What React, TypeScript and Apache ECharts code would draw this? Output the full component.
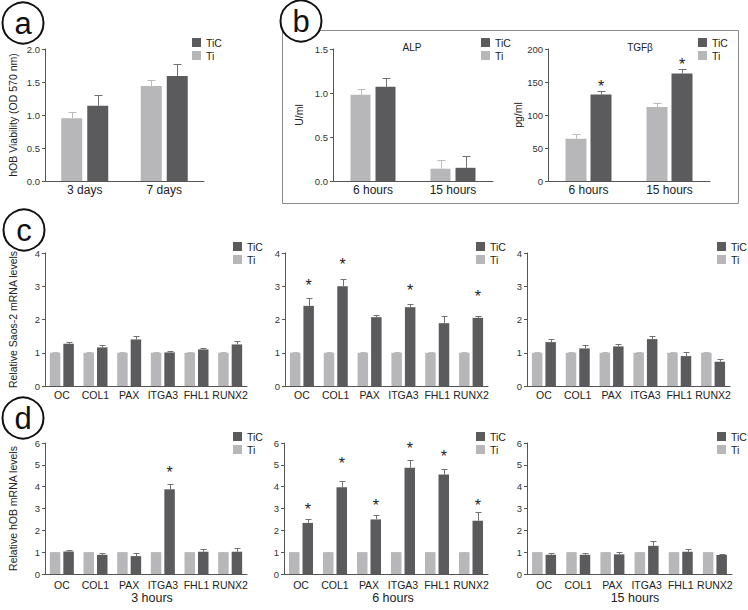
import React, { useEffect, useRef } from 'react';
import * as echarts from 'echarts';

const FONT = '"Liberation Sans", Arial, Helvetica, sans-serif';
const TIC_COLOR = '#5b5b5d';
const TI_COLOR = '#b7b7b9';
const TIC_ERR = '#727274';
const TI_ERR = '#bcbcbe';
const AXIS_COLOR = '#555555';
const TEXT_COLOR = '#222222';

// ---------- Panel a ----------
const aCategories = ['3 days', '7 days'];
const aTi = [0.95, 1.44];
const aTiErr = [1.04, 1.53];
const aTiC = [1.14, 1.59];
const aTiCErr = [1.3, 1.77];

// ---------- Panel b ----------
const bCategories = ['6 hours', '15 hours'];
const alpTi = [0.98, 0.14];
const alpTiErr = [1.05, 0.24];
const alpTiC = [1.07, 0.15];
const alpTiCErr = [1.17, 0.28];

const tgfTi = [64, 112];
const tgfTiErr = [71, 118];
const tgfTiC = [131, 163];
const tgfTiCErr = [136, 169];
const tgfStars = [150, 183];

// ---------- Panels c, d ----------
const genes = ['OC', 'COL1', 'PAX', 'ITGA3', 'FHL1', 'RUNX2'];
const geneTi = [1, 1, 1, 1, 1, 1];
const geneTiErr = [1.02, 1.02, 1.02, 1.02, 1.02, 1.02];

const c1TiC = [1.27, 1.16, 1.4, 1.01, 1.1, 1.25];
const c1TiCErr = [1.33, 1.23, 1.5, 1.06, 1.15, 1.35];

const c2TiC = [2.41, 3.0, 2.07, 2.37, 1.89, 2.05];
const c2TiCErr = [2.66, 3.23, 2.15, 2.48, 2.1, 2.12];
const c2Stars = [3.13, 3.76, null, 3.0, null, 2.8];

const c3TiC = [1.32, 1.13, 1.19, 1.41, 0.9, 0.73];
const c3TiCErr = [1.41, 1.23, 1.25, 1.49, 1.01, 0.82];

const d1TiC = [1.03, 0.88, 0.82, 3.88, 1.02, 1.02];
const d1TiCErr = [1.11, 0.96, 0.96, 4.12, 1.16, 1.17];
const d1Stars = [null, null, null, 4.83, null, null];

const d2TiC = [2.34, 3.97, 2.5, 4.87, 4.56, 2.44];
const d2TiCErr = [2.52, 4.27, 2.7, 5.22, 4.81, 2.82];
const d2Stars = [3.16, 5.24, 3.34, 5.91, 5.57, 3.34];

const d3TiC = [0.88, 0.88, 0.9, 1.29, 1.02, 0.87];
const d3TiCErr = [0.96, 0.96, 1.03, 1.5, 1.16, 0.91];

const timeLabels = ['3 hours', '6 hours', '15 hours'];

type Panel = {
  left: number; top: number; width: number; height: number;
  cats: string[]; ti: number[]; tiErr: number[]; tic: number[]; ticErr: number[];
  stars?: (number | null)[];
  min: number; max: number; interval: number; decimals: number;
  barW: number; gap: number; cap: number; catFont: number; catMargin: number;
  yName?: string; nameGap?: number; legend: [number, number];
};

const panels: Panel[] = [
  { left: 45, top: 49, width: 159, height: 132, cats: aCategories, ti: aTi, tiErr: aTiErr, tic: aTiC, ticErr: aTiCErr,
    min: 0, max: 2, interval: 0.5, decimals: 1, barW: 21, gap: 5, cap: 8, catFont: 12, catMargin: 3,
    yName: 'hOB Viability (OD 570 nm)', nameGap: 27, legend: [192, 38] },
  { left: 333, top: 49, width: 160, height: 132, cats: bCategories, ti: alpTi, tiErr: alpTiErr, tic: alpTiC, ticErr: alpTiCErr,
    min: 0, max: 1.5, interval: 0.5, decimals: 1, barW: 20, gap: 5, cap: 8, catFont: 12, catMargin: 3,
    yName: 'U/ml', nameGap: 29, legend: [481, 38] },
  { left: 548, top: 49, width: 162, height: 132, cats: bCategories, ti: tgfTi, tiErr: tgfTiErr, tic: tgfTiC, ticErr: tgfTiCErr,
    stars: tgfStars, min: 0, max: 200, interval: 50, decimals: 0, barW: 21, gap: 4, cap: 8, catFont: 12, catMargin: 3,
    yName: 'pg/ml', nameGap: 24, legend: [698, 38] },
  { left: 45, top: 253, width: 202, height: 133, cats: genes, ti: geneTi, tiErr: geneTiErr, tic: c1TiC, ticErr: c1TiCErr,
    min: 0, max: 4, interval: 1, decimals: 0, barW: 10.5, gap: 3, cap: 6, catFont: 10.5, catMargin: 3,
    yName: 'Relative Saos-2 mRNA levels', nameGap: 27, legend: [233, 242] },
  { left: 285, top: 253, width: 203, height: 133, cats: genes, ti: geneTi, tiErr: geneTiErr, tic: c2TiC, ticErr: c2TiCErr,
    stars: c2Stars, min: 0, max: 4, interval: 1, decimals: 0, barW: 10.5, gap: 3, cap: 6, catFont: 10.5, catMargin: 3,
    legend: [476, 242] },
  { left: 527, top: 253, width: 203, height: 133, cats: genes, ti: geneTi, tiErr: geneTiErr, tic: c3TiC, ticErr: c3TiCErr,
    min: 0, max: 4, interval: 1, decimals: 0, barW: 10.5, gap: 3, cap: 6, catFont: 10.5, catMargin: 3,
    legend: [717, 242] },
  { left: 45, top: 443, width: 202, height: 131, cats: genes, ti: geneTi, tiErr: geneTiErr, tic: d1TiC, ticErr: d1TiCErr,
    stars: d1Stars, min: 0, max: 6, interval: 1, decimals: 0, barW: 10.5, gap: 3, cap: 6, catFont: 10.5, catMargin: 5,
    yName: 'Relative hOB mRNA levels', nameGap: 27, legend: [233, 432] },
  { left: 284, top: 443, width: 204, height: 131, cats: genes, ti: geneTi, tiErr: geneTiErr, tic: d2TiC, ticErr: d2TiCErr,
    stars: d2Stars, min: 0, max: 6, interval: 1, decimals: 0, barW: 10.5, gap: 3, cap: 6, catFont: 10.5, catMargin: 5,
    legend: [476, 432] },
  { left: 527, top: 443, width: 205, height: 131, cats: genes, ti: geneTi, tiErr: geneTiErr, tic: d3TiC, ticErr: d3TiCErr,
    min: 0, max: 6, interval: 1, decimals: 0, barW: 10.5, gap: 3, cap: 6, catFont: 10.5, catMargin: 5,
    legend: [717, 432] },
];

function errSeries(gi: number, vals: number[], errs: number[], offset: number, color: string, cap: number) {
  return {
    type: 'custom',
    xAxisIndex: gi,
    yAxisIndex: gi,
    z: 5,
    silent: true,
    data: vals.map((v, i) => [i, errs[i], v]),
    encode: { x: 0, y: 1 },
    renderItem: (_params: any, api: any) => {
      const i = api.value(0);
      const pt = api.coord([i, api.value(1)]);
      const pb = api.coord([i, api.value(2)]);
      const x = Math.round(pt[0] + offset) + 0.5;
      const yt = Math.round(pt[1]) + 0.5;
      return {
        type: 'group',
        children: [
          { type: 'line', shape: { x1: x, y1: pb[1], x2: x, y2: yt }, style: { stroke: color, lineWidth: 1 } },
          { type: 'line', shape: { x1: x - cap / 2, y1: yt, x2: x + cap / 2, y2: yt }, style: { stroke: color, lineWidth: 1 } },
        ],
      };
    },
  };
}

function starSeries(gi: number, stars: (number | null)[], offset: number) {
  const data: number[][] = [];
  stars.forEach((s, i) => { if (s !== null) data.push([i, s]); });
  return {
    type: 'custom',
    xAxisIndex: gi,
    yAxisIndex: gi,
    z: 6,
    silent: true,
    data,
    encode: { x: 0, y: 1 },
    renderItem: (_params: any, api: any) => {
      const p = api.coord([api.value(0), api.value(1)]);
      return {
        type: 'text',
        style: {
          text: '*', x: p[0] + offset, y: p[1] + 4, align: 'center', verticalAlign: 'middle',
          fontSize: 16, fontFamily: FONT, fill: TEXT_COLOR,
        },
      };
    },
  };
}

function buildOption() {
  const grid: any[] = [];
  const xAxis: any[] = [];
  const yAxis: any[] = [];
  const series: any[] = [];
  const legend: any[] = [];

  panels.forEach((p, gi) => {
    grid.push({ left: p.left, top: p.top, width: p.width, height: p.height, containLabel: false });
    xAxis.push({
      type: 'category', gridIndex: gi, data: p.cats,
      axisLine: { lineStyle: { color: AXIS_COLOR, width: 1 } },
      axisTick: { show: false },
      axisLabel: { fontSize: p.catFont, fontFamily: FONT, color: TEXT_COLOR, margin: p.catMargin, interval: 0, hideOverlap: false },
    });
    yAxis.push({
      type: 'value', gridIndex: gi, min: p.min, max: p.max, interval: p.interval,
      name: p.yName || '', nameLocation: 'middle', nameGap: p.nameGap || 20, nameRotate: 90,
      nameTextStyle: { fontSize: 10.5, fontFamily: FONT, color: TEXT_COLOR },
      axisLine: { show: true, lineStyle: { color: AXIS_COLOR, width: 1 } },
      axisTick: { show: true, length: 3, lineStyle: { color: AXIS_COLOR } },
      splitLine: { show: false },
      axisLabel: {
        fontSize: 9.5, fontFamily: FONT, color: '#333333', margin: 5,
        formatter: (v: number) => v.toFixed(p.decimals),
      },
    });
    const gapPct = `${(p.gap / p.barW) * 100}%`;
    series.push({
      type: 'bar', name: 'Ti', xAxisIndex: gi, yAxisIndex: gi, data: p.ti, barWidth: p.barW, barGap: gapPct,
      itemStyle: { color: TI_COLOR }, z: 2,
    });
    series.push({
      type: 'bar', name: 'TiC', xAxisIndex: gi, yAxisIndex: gi, data: p.tic, barWidth: p.barW, barGap: gapPct,
      itemStyle: { color: TIC_COLOR }, z: 2,
    });
    const off = (p.barW + p.gap) / 2;
    series.push(errSeries(gi, p.ti, p.tiErr, -off, TI_ERR, p.cap));
    series.push(errSeries(gi, p.tic, p.ticErr, off, TIC_ERR, p.cap));
    if (p.stars) series.push(starSeries(gi, p.stars, off));
    legend.push({
      orient: 'vertical', left: p.legend[0], top: p.legend[1] - 1.5, padding: 0,
      itemWidth: 9, itemHeight: 9, itemGap: 1, icon: 'rect', selectedMode: false,
      data: ['TiC', 'Ti'],
      textStyle: { fontSize: 10.5, lineHeight: 12, fontFamily: FONT, color: TEXT_COLOR },
    });
  });

  const circle = (cx: number, cy: number, letter: string) => [
    { type: 'circle', shape: { cx, cy, r: 20.5 }, style: { fill: '#ffffff', stroke: '#111111', lineWidth: 2 }, z: 10 },
    { type: 'text', x: cx, y: cy, style: { text: letter, align: 'center', verticalAlign: 'middle', fontSize: 31, fontFamily: FONT, fill: '#111111' }, z: 11 },
  ];

  const timeX = [152, 393, 635];
  const graphic: any[] = [
    { type: 'rect', shape: { x: 282.5, y: 30.5, width: 456, height: 173 }, style: { fill: 'none', stroke: '#8c8c8c', lineWidth: 1 }, z: 0 },
    ...circle(23, 23, 'a'),
    ...circle(301, 21, 'b'),
    ...circle(24, 230, 'c'),
    ...circle(23, 418, 'd'),
    { type: 'text', x: 412, y: 47, style: { text: 'ALP', align: 'center', verticalAlign: 'middle', fontSize: 10, fontFamily: FONT, fill: TEXT_COLOR } },
    { type: 'text', x: 640, y: 47, style: { text: 'TGFβ', align: 'center', verticalAlign: 'middle', fontSize: 10, fontFamily: FONT, fill: TEXT_COLOR } },
    ...timeLabels.map((t, i) => ({
      type: 'text', x: timeX[i], y: 598,
      style: { text: t, align: 'center', verticalAlign: 'middle', fontSize: 12.5, fontFamily: FONT, fill: TEXT_COLOR },
    })),
  ];

  return {
    animation: false,
    backgroundColor: '#ffffff',
    textStyle: { fontFamily: FONT },
    grid, xAxis, yAxis, series, legend, graphic,
  };
}

export default function App() {
  const ref = useRef<HTMLDivElement>(null);
  useEffect(() => {
    if (!ref.current) return;
    const chart = echarts.init(ref.current, undefined, { renderer: 'svg' });
    chart.setOption(buildOption() as any);
    return () => chart.dispose();
  }, []);
  return (
    <div
      ref={ref}
      style={{ position: 'fixed', left: 0, top: 0, width: 748, height: 610, background: '#ffffff' }}
    />
  );
}
